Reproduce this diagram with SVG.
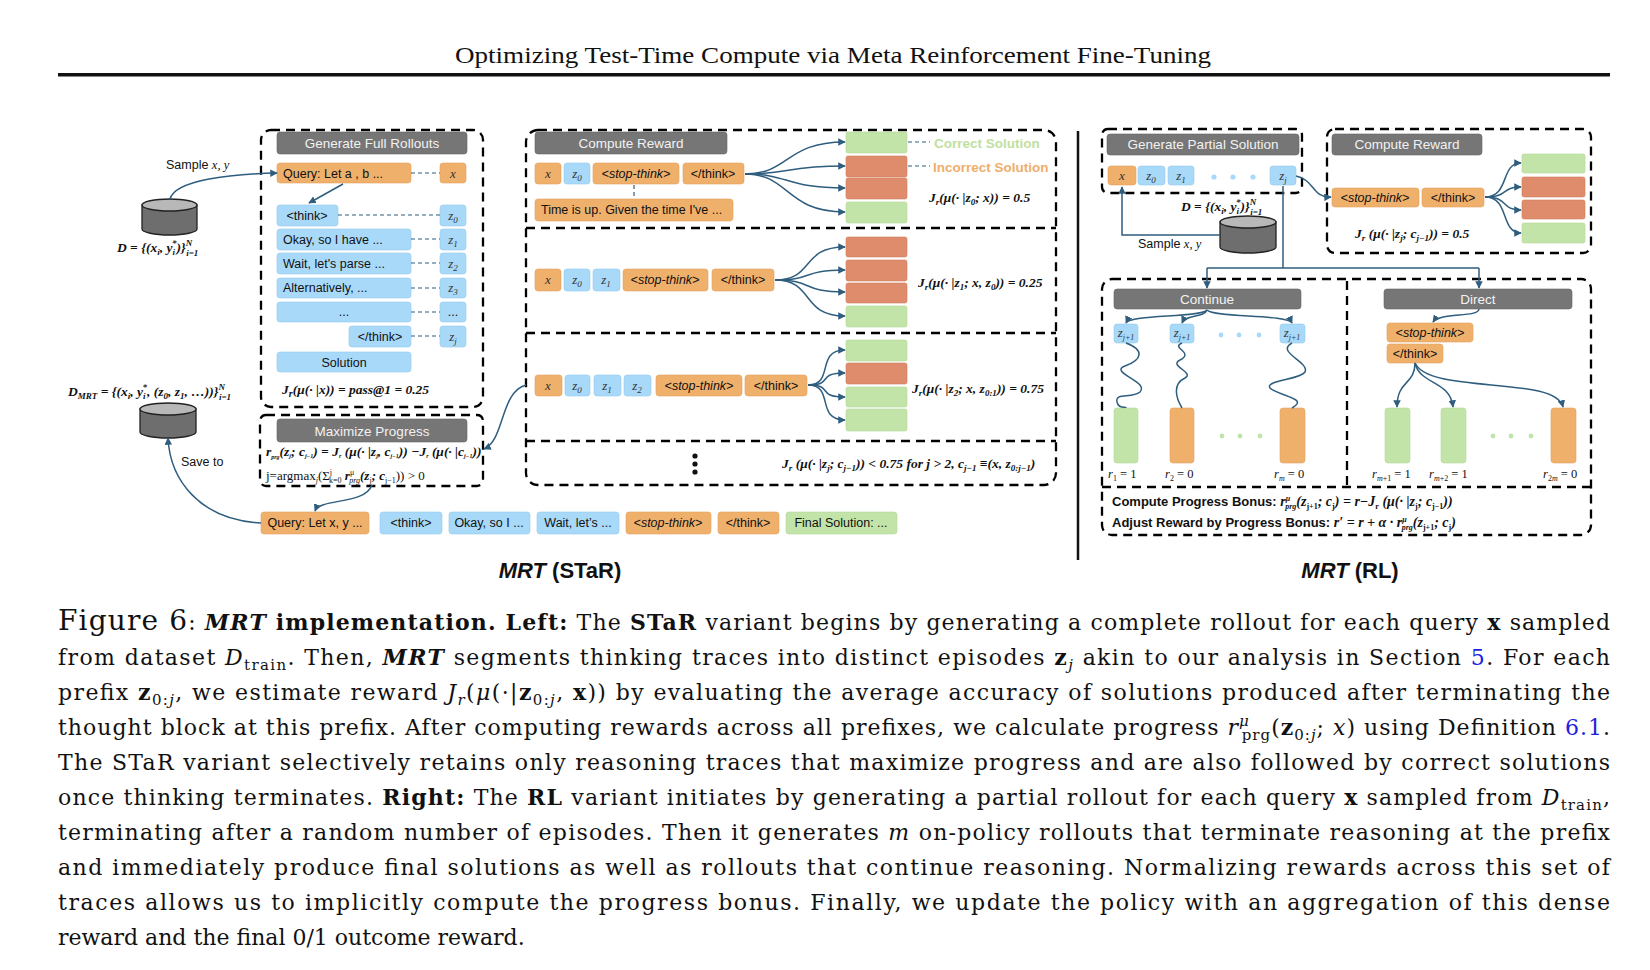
<svg xmlns="http://www.w3.org/2000/svg" width="1650" height="970" viewBox="0 0 1650 970">
<defs>
<marker id="ah" viewBox="0 0 10 10" refX="9" refY="5" markerWidth="5" markerHeight="5" orient="auto"><path d="M0,0 L10,5 L0,10 z" fill="#2F5D7E"/></marker>
<style>
.dash{fill:none;stroke:#000;stroke-width:2.3;stroke-dasharray:9 6}
.hdr{fill:#767676;stroke:#666;stroke-width:0.6}
.ht{font-family:"Liberation Sans",Arial,sans-serif;font-size:13.5px;fill:#F2F2F2;text-anchor:middle}
.o{fill:#EFB06C;stroke:#E3A35F;stroke-width:0.6}
.b{fill:#A9D9F9;stroke:#95C9EC;stroke-width:0.6}
.g{fill:#C3E4A8;stroke:#B2D699;stroke-width:0.6}
.r{fill:#DE8C6C;stroke:#D07E60;stroke-width:0.6}
.t{font-family:"Liberation Sans",Arial,sans-serif;font-size:12.5px;fill:#111}
.tc{font-family:"Liberation Sans",Arial,sans-serif;font-size:12.5px;fill:#111;text-anchor:middle}
.ti{font-family:"Liberation Serif",serif;font-style:italic;font-size:13px;fill:#333;text-anchor:middle}
.m{font-family:"Liberation Serif",serif;font-style:italic;font-weight:bold;font-size:13.5px;fill:#111}
.c{fill:none;stroke:#2F5D7E;stroke-width:1.5}
.ca{fill:none;stroke:#2F5D7E;stroke-width:1.5;marker-end:url(#ah)}
.dl{fill:none;stroke:#2F5D7E;stroke-width:1.2;stroke-dasharray:4 3}
.cap{font-family:"DejaVu Serif",serif;font-size:22px;fill:#111}
.cyl{fill:#6E6E6E;stroke:#222;stroke-width:1.3}
.cylt{fill:#B8B8B8;stroke:#222;stroke-width:1.3}
.dot{fill:#A9D9F9}
.gdot{fill:#C3E4A8}
</style>
</defs>

<text x="455" y="63" textLength="756" lengthAdjust="spacingAndGlyphs" font-family="Liberation Serif,serif" font-size="23" fill="#111">Optimizing Test-Time Compute via Meta Reinforcement Fine-Tuning</text>
<rect x="58" y="73" width="1552" height="3.5" fill="#111"/>

<g id="dataset-D">
<path class="cyl" d="M142,205 L142,229 A27.5,6 0 0 0 197,229 L197,205 z"/>
<ellipse class="cylt" cx="169.5" cy="205" rx="27.5" ry="6"/>
<text class="m" x="117" y="252" font-size="13.5">D = {(x<tspan dy="3" font-size="9">i</tspan><tspan dy="-3">, y</tspan><tspan dy="3" font-size="9">i</tspan><tspan dy="-9" dx="-3" font-size="9">*</tspan><tspan dy="6">)}</tspan><tspan dy="-6" font-size="9">N</tspan><tspan dy="10" dx="-6" font-size="9">i=1</tspan></text>
<text class="t" x="166" y="169" font-size="13">Sample <tspan font-family="Liberation Serif" font-style="italic">x, y</tspan></text>
</g>
<g id="dataset-DMRT">
<text class="m" x="68" y="396" font-size="13.5">D<tspan dy="3" font-size="9">MRT</tspan><tspan dy="-3"> = {(x</tspan><tspan dy="3" font-size="9">i</tspan><tspan dy="-3">, y</tspan><tspan dy="3" font-size="9">i</tspan><tspan dy="-9" dx="-3" font-size="9">*</tspan><tspan dy="6">, (z</tspan><tspan dy="3" font-size="9">0</tspan><tspan dy="-3">, z</tspan><tspan dy="3" font-size="9">1</tspan><tspan dy="-3">, …))}</tspan><tspan dy="-6" font-size="9">N</tspan><tspan dy="10" dx="-6" font-size="9">i=1</tspan></text>
<path class="cyl" d="M140,409 L140,432 A28,6 0 0 0 196,432 L196,409 z"/>
<ellipse class="cylt" cx="168" cy="409" rx="28" ry="6"/>
<text class="t" x="181" y="466" font-size="13">Save to</text>
</g>

<g id="gen-full">
<rect class="dash" x="261" y="130" width="222" height="277" rx="10"/>
<rect class="hdr" x="277" y="132" width="190" height="22" rx="3"/>
<text class="ht" x="372" y="148">Generate Full Rollouts</text>
<rect class="o" x="277" y="163" width="134" height="20" rx="3"/><text class="t" x="283" y="178">Query: Let a , b ...</text>
<rect class="o" x="440" y="163" width="26" height="20" rx="3"/><text class="ti" x="453" y="178">x</text>
<rect class="b" x="277" y="205" width="61" height="21" rx="3"/><text class="tc" x="307" y="220">&lt;think&gt;</text>
<rect class="b" x="440" y="205" width="26" height="21" rx="3"/><text class="ti" x="453" y="220">z<tspan dy="3" font-size="9">0</tspan></text>
<rect class="b" x="277" y="229" width="134" height="21" rx="3"/><text class="t" x="283" y="244">Okay, so I have ...</text>
<rect class="b" x="440" y="229" width="26" height="21" rx="3"/><text class="ti" x="453" y="244">z<tspan dy="3" font-size="9">1</tspan></text>
<rect class="b" x="277" y="253" width="134" height="21" rx="3"/><text class="t" x="283" y="268">Wait, let's parse ...</text>
<rect class="b" x="440" y="253" width="26" height="21" rx="3"/><text class="ti" x="453" y="268">z<tspan dy="3" font-size="9">2</tspan></text>
<rect class="b" x="277" y="278" width="134" height="20" rx="3"/><text class="t" x="283" y="292">Alternatively, ...</text>
<rect class="b" x="440" y="278" width="26" height="20" rx="3"/><text class="ti" x="453" y="292">z<tspan dy="3" font-size="9">3</tspan></text>
<rect class="b" x="277" y="302" width="134" height="20" rx="3"/><text class="tc" x="344" y="316">...</text>
<rect class="b" x="440" y="302" width="26" height="20" rx="3"/><text class="tc" x="453" y="316">...</text>
<rect class="b" x="349" y="326" width="62" height="21" rx="3"/><text class="tc" x="380" y="341">&lt;/think&gt;</text>
<rect class="b" x="440" y="326" width="26" height="21" rx="3"/><text class="ti" x="453" y="341">z<tspan dy="3" font-size="9">j</tspan></text>
<rect class="b" x="277" y="352" width="134" height="20" rx="3"/><text class="tc" x="344" y="367" font-size="14">Solution</text>
<text class="m" x="282" y="394" font-size="15">J<tspan dy="3" font-size="10">r</tspan><tspan dy="-3">(μ(· |x)) = pass@1 = 0.25</tspan></text>
</g>

<g id="max-progress">
<rect class="dash" x="260" y="415" width="223" height="71" rx="6"/>
<rect class="hdr" x="277" y="419" width="190" height="23" rx="3"/>
<text class="ht" x="372" y="436">Maximize Progress</text>
<text class="m" x="266" y="456" font-size="9" font-weight="normal">r<tspan dy="3" font-size="6">prg</tspan><tspan dy="-3">(z</tspan><tspan dy="2" font-size="6">j</tspan><tspan dy="-2">; c</tspan><tspan dy="2" font-size="6">j−1</tspan><tspan dy="-2">) = J</tspan><tspan dy="2" font-size="6">r</tspan><tspan dy="-2"> (μ(· |z</tspan><tspan dy="2" font-size="6">j</tspan><tspan dy="-2">, c</tspan><tspan dy="2" font-size="6">j−1</tspan><tspan dy="-2">)) −J</tspan><tspan dy="2" font-size="6">r</tspan><tspan dy="-2"> (μ(· |c</tspan><tspan dy="2" font-size="6">j−1</tspan><tspan dy="-2">))</tspan></text>
<text x="266" y="480" font-family="Liberation Serif,serif" font-size="13" fill="#111">j=argmax<tspan dy="3" font-size="8" font-style="italic">j</tspan><tspan dy="-3">(Σ</tspan><tspan dy="-5" font-size="8">j</tspan><tspan dy="8" dx="-3" font-size="8">k=0</tspan><tspan dy="-3" font-style="italic" font-weight="bold"> r</tspan><tspan dy="-5" font-size="8">μ</tspan><tspan dy="8" dx="-5" font-size="8" font-style="italic">prg</tspan><tspan dy="-3" font-style="italic" font-weight="bold">(z</tspan><tspan dy="3" font-size="8">j</tspan><tspan dy="-3" font-style="italic" font-weight="bold">; c</tspan><tspan dy="3" font-size="8">j−1</tspan><tspan dy="-3">)) &gt; 0</tspan></text>
</g>

<g id="star-output">
<rect class="o" x="261" y="512" width="108" height="22" rx="3"/><text class="tc" x="315" y="527" font-size="12">Query: Let x, y ...</text>
<rect class="b" x="380" y="512" width="62" height="22" rx="3"/><text class="tc" x="411" y="527" font-size="12">&lt;think&gt;</text>
<rect class="b" x="449" y="512" width="81" height="22" rx="3"/><text class="tc" x="489" y="527" font-size="12">Okay, so I ...</text>
<rect class="b" x="537" y="512" width="82" height="22" rx="3"/><text class="tc" x="578" y="527" font-size="12">Wait, let’s ...</text>
<rect class="o" x="626" y="512" width="85" height="22" rx="3"/><text class="tc" x="668" y="527" font-size="12" font-style="italic">&lt;stop-think&gt;</text>
<rect class="o" x="718" y="512" width="61" height="22" rx="3"/><text class="tc" x="748" y="527" font-size="12">&lt;/think&gt;</text>
<rect class="g" x="786" y="512" width="111" height="22" rx="3"/><text class="tc" x="841" y="527" font-size="12">Final Solution: ...</text>
</g>
<text x="560" y="578" text-anchor="middle" font-family="Liberation Sans,Arial,sans-serif" font-size="22" font-weight="bold" fill="#111"><tspan font-style="italic">MRT</tspan> (STaR)</text>

<g id="compute-reward-star">
<rect class="dash" x="526" y="130" width="530" height="355" rx="12"/>
<line class="dash" x1="526" y1="228" x2="1056" y2="228"/>
<line class="dash" x1="526" y1="333" x2="1056" y2="333"/>
<line class="dash" x1="526" y1="441" x2="1056" y2="441"/>
<rect class="hdr" x="535" y="132" width="192" height="22" rx="3"/>
<text class="ht" x="631" y="148">Compute Reward</text>
<rect class="o" x="535" y="163" width="26" height="21" rx="3"/><text class="ti" x="548" y="178">x</text>
<rect class="b" x="564" y="163" width="26" height="21" rx="3"/><text class="ti" x="577" y="178">z<tspan dy="3" font-size="9">0</tspan></text>
<rect class="o" x="593" y="163" width="86" height="21" rx="3"/><text class="tc" x="636" y="178" font-style="italic">&lt;stop-think&gt;</text>
<rect class="o" x="683" y="163" width="61" height="21" rx="3"/><text class="tc" x="713" y="178">&lt;/think&gt;</text>
<line class="dl" x1="634" y1="185" x2="634" y2="199"/>
<rect class="o" x="535" y="199" width="198" height="22" rx="3"/><text class="t" x="541" y="214">Time is up. Given the time I've ...</text>
<rect class="g" x="846" y="132" width="61" height="21" rx="2"/>
<rect class="r" x="846" y="156" width="61" height="21" rx="2"/>
<rect class="r" x="846" y="178" width="61" height="21" rx="2"/>
<rect class="g" x="846" y="202" width="61" height="21" rx="2"/>
<line class="dl" x1="908" y1="142" x2="930" y2="142"/>
<line class="dl" x1="908" y1="166" x2="930" y2="166"/>
<text x="934" y="148" font-family="Liberation Sans,Arial,sans-serif" font-size="13.5" font-weight="bold" fill="#BFDF9F">Correct Solution</text>
<text x="933" y="172" font-family="Liberation Sans,Arial,sans-serif" font-size="13.5" font-weight="bold" fill="#EFAE6A">Incorrect Solution</text>
<text class="m" x="929" y="202">J<tspan dy="3" font-size="9">r</tspan><tspan dy="-3">(μ(· |z</tspan><tspan dy="3" font-size="9">0</tspan><tspan dy="-3">; x)) = 0.5</tspan></text>
<rect class="o" x="535" y="269" width="26" height="22" rx="3"/><text class="ti" x="548" y="284">x</text>
<rect class="b" x="564" y="269" width="26" height="22" rx="3"/><text class="ti" x="577" y="284">z<tspan dy="3" font-size="9">0</tspan></text>
<rect class="b" x="593" y="269" width="27" height="22" rx="3"/><text class="ti" x="606" y="284">z<tspan dy="3" font-size="9">1</tspan></text>
<rect class="o" x="623" y="269" width="85" height="22" rx="3"/><text class="tc" x="665" y="284" font-style="italic">&lt;stop-think&gt;</text>
<rect class="o" x="712" y="269" width="62" height="22" rx="3"/><text class="tc" x="743" y="284">&lt;/think&gt;</text>
<rect class="r" x="846" y="237" width="61" height="20" rx="2"/>
<rect class="r" x="846" y="260" width="61" height="21" rx="2"/>
<rect class="r" x="846" y="283" width="61" height="20" rx="2"/>
<rect class="g" x="846" y="306" width="61" height="21" rx="2"/>
<text class="m" x="918" y="287">J<tspan dy="3" font-size="9">r</tspan><tspan dy="-3">(μ(· |z</tspan><tspan dy="3" font-size="9">1</tspan><tspan dy="-3">; x, z</tspan><tspan dy="3" font-size="9">0</tspan><tspan dy="-3">)) = 0.25</tspan></text>
<rect class="o" x="535" y="375" width="27" height="21" rx="3"/><text class="ti" x="548" y="390">x</text>
<rect class="b" x="565" y="375" width="25" height="21" rx="3"/><text class="ti" x="577" y="390">z<tspan dy="3" font-size="9">0</tspan></text>
<rect class="b" x="594" y="375" width="27" height="21" rx="3"/><text class="ti" x="607" y="390">z<tspan dy="3" font-size="9">1</tspan></text>
<rect class="b" x="624" y="375" width="27" height="21" rx="3"/><text class="ti" x="637" y="390">z<tspan dy="3" font-size="9">2</tspan></text>
<rect class="o" x="656" y="375" width="86" height="21" rx="3"/><text class="tc" x="699" y="390" font-style="italic">&lt;stop-think&gt;</text>
<rect class="o" x="745" y="375" width="62" height="21" rx="3"/><text class="tc" x="776" y="390">&lt;/think&gt;</text>
<rect class="g" x="846" y="340" width="61" height="21" rx="2"/>
<rect class="r" x="846" y="363" width="61" height="21" rx="2"/>
<rect class="g" x="846" y="387" width="61" height="20" rx="2"/>
<rect class="g" x="846" y="409" width="61" height="22" rx="2"/>
<text class="m" x="912" y="393">J<tspan dy="3" font-size="9">r</tspan><tspan dy="-3">(μ(· |z</tspan><tspan dy="3" font-size="9">2</tspan><tspan dy="-3">; x, z</tspan><tspan dy="3" font-size="9">0:1</tspan><tspan dy="-3">)) = 0.75</tspan></text>
<circle cx="695" cy="456" r="2.6" fill="#111"/><circle cx="695" cy="464" r="2.6" fill="#111"/><circle cx="695" cy="472" r="2.6" fill="#111"/>
<text class="m" x="782" y="468">J<tspan dy="3" font-size="9">r</tspan><tspan dy="-3"> (μ(· |z</tspan><tspan dy="3" font-size="9">j</tspan><tspan dy="-3">; c</tspan><tspan dy="3" font-size="9">j−1</tspan><tspan dy="-3">)) &lt; 0.75 for j &gt; 2, c</tspan><tspan dy="3" font-size="9">j−1</tspan><tspan dy="-3"> ≡(x, z</tspan><tspan dy="3" font-size="9">0:j−1</tspan><tspan dy="-3">)</tspan></text>
</g>

<line x1="1078" y1="131" x2="1078" y2="560" stroke="#111" stroke-width="2.5"/>

<g id="gen-partial">
<rect class="dash" x="1102" y="129" width="200" height="64" rx="6"/>
<rect class="hdr" x="1107" y="134" width="192" height="21" rx="3"/>
<text class="ht" x="1203" y="149">Generate Partial Solution</text>
<rect class="o" x="1108" y="166" width="28" height="19" rx="3"/><text class="ti" x="1122" y="180">x</text>
<rect class="b" x="1138" y="166" width="27" height="19" rx="3"/><text class="ti" x="1151" y="180">z<tspan dy="3" font-size="9">0</tspan></text>
<rect class="b" x="1168" y="166" width="26" height="19" rx="3"/><text class="ti" x="1181" y="180">z<tspan dy="3" font-size="9">1</tspan></text>
<circle class="dot" cx="1214" cy="177" r="2.6"/><circle class="dot" cx="1233" cy="177" r="2.6"/><circle class="dot" cx="1253" cy="177" r="2.6"/>
<rect class="b" x="1270" y="166" width="26" height="19" rx="3"/><text class="ti" x="1283" y="180">z<tspan dy="3" font-size="9">j</tspan></text>
</g>
<g id="dataset-D-rl">
<text class="m" x="1181" y="211" font-size="13.5">D = {(x<tspan dy="3" font-size="9">i</tspan><tspan dy="-3">, y</tspan><tspan dy="3" font-size="9">i</tspan><tspan dy="-9" dx="-3" font-size="9">*</tspan><tspan dy="6">)}</tspan><tspan dy="-6" font-size="9">N</tspan><tspan dy="10" dx="-6" font-size="9">i=1</tspan></text>
<path class="cyl" d="M1220,222 L1220,247 A28,6 0 0 0 1276,247 L1276,222 z"/>
<ellipse class="cylt" cx="1248" cy="222" rx="28" ry="6"/>
<text class="t" x="1138" y="248" font-size="13">Sample <tspan font-family="Liberation Serif" font-style="italic">x, y</tspan></text>
</g>

<g id="compute-reward-rl">
<rect class="dash" x="1327" y="129" width="264" height="124" rx="8"/>
<rect class="hdr" x="1332" y="134" width="150" height="21" rx="3"/>
<text class="ht" x="1407" y="149">Compute Reward</text>
<rect class="o" x="1332" y="188" width="87" height="19" rx="3"/><text class="tc" x="1375" y="202" font-style="italic">&lt;stop-think&gt;</text>
<rect class="o" x="1422" y="188" width="62" height="19" rx="3"/><text class="tc" x="1453" y="202">&lt;/think&gt;</text>
<rect class="g" x="1522" y="154" width="63" height="19" rx="2"/>
<rect class="r" x="1522" y="177" width="63" height="20" rx="2"/>
<rect class="r" x="1522" y="200" width="63" height="19" rx="2"/>
<rect class="g" x="1522" y="223" width="63" height="20" rx="2"/>
<text class="m" x="1355" y="238">J<tspan dy="3" font-size="9">r</tspan><tspan dy="-3"> (μ(· |z</tspan><tspan dy="3" font-size="9">j</tspan><tspan dy="-3">; c</tspan><tspan dy="3" font-size="9">j−1</tspan><tspan dy="-3">)) = 0.5</tspan></text>
</g>

<g id="continue-direct">
<rect class="dash" x="1102" y="279" width="489" height="256" rx="10"/>
<line class="dash" x1="1347" y1="281" x2="1347" y2="487"/>
<line class="dash" x1="1102" y1="487" x2="1591" y2="487"/>
<rect class="hdr" x="1114" y="289" width="187" height="20" rx="3"/>
<text class="ht" x="1207" y="304">Continue</text>
<rect class="hdr" x="1384" y="289" width="188" height="20" rx="3"/>
<text class="ht" x="1478" y="304">Direct</text>
<rect class="b" x="1114" y="324" width="24" height="19" rx="3"/><text class="ti" x="1126" y="337" font-size="12">z<tspan dy="3" font-size="8">j+1</tspan></text>
<rect class="b" x="1170" y="324" width="24" height="19" rx="3"/><text class="ti" x="1182" y="337" font-size="12">z<tspan dy="3" font-size="8">j+1</tspan></text>
<rect class="b" x="1280" y="324" width="25" height="19" rx="3"/><text class="ti" x="1292" y="337" font-size="12">z<tspan dy="3" font-size="8">j+1</tspan></text>
<circle class="dot" cx="1221" cy="335" r="2.4"/><circle class="dot" cx="1239" cy="335" r="2.4"/><circle class="dot" cx="1259" cy="335" r="2.4"/>
<rect class="g" x="1114" y="408" width="24" height="55" rx="3"/>
<rect class="o" x="1170" y="408" width="24" height="55" rx="3"/>
<rect class="o" x="1280" y="408" width="25" height="55" rx="3"/>
<circle class="gdot" cx="1222" cy="436" r="2.4"/><circle class="gdot" cx="1240" cy="436" r="2.4"/><circle class="gdot" cx="1260" cy="436" r="2.4"/>
<text x="1108" y="478" font-family="Liberation Serif,serif" font-size="12.5" fill="#111"><tspan font-style="italic">r</tspan><tspan dy="3" font-size="8">1</tspan><tspan dy="-3"> = 1</tspan></text>
<text x="1165" y="478" font-family="Liberation Serif,serif" font-size="12.5" fill="#111"><tspan font-style="italic">r</tspan><tspan dy="3" font-size="8">2</tspan><tspan dy="-3"> = 0</tspan></text>
<text x="1274" y="478" font-family="Liberation Serif,serif" font-size="12.5" fill="#111"><tspan font-style="italic">r</tspan><tspan dy="3" font-size="8" font-style="italic">m</tspan><tspan dy="-3"> = 0</tspan></text>
<rect class="o" x="1387" y="323" width="86" height="19" rx="3"/><text class="tc" x="1430" y="337" font-size="12" font-style="italic">&lt;stop-think&gt;</text>
<rect class="o" x="1387" y="344" width="56" height="19" rx="3"/><text class="tc" x="1415" y="358" font-size="12">&lt;/think&gt;</text>
<rect class="g" x="1385" y="408" width="25" height="55" rx="3"/>
<rect class="g" x="1441" y="408" width="25" height="55" rx="3"/>
<rect class="o" x="1551" y="408" width="25" height="55" rx="3"/>
<circle class="gdot" cx="1493" cy="436" r="2.4"/><circle class="gdot" cx="1511" cy="436" r="2.4"/><circle class="gdot" cx="1531" cy="436" r="2.4"/>
<text x="1372" y="478" font-family="Liberation Serif,serif" font-size="12.5" fill="#111"><tspan font-style="italic">r</tspan><tspan dy="3" font-size="8"><tspan font-style="italic">m</tspan>+1</tspan><tspan dy="-3"> = 1</tspan></text>
<text x="1429" y="478" font-family="Liberation Serif,serif" font-size="12.5" fill="#111"><tspan font-style="italic">r</tspan><tspan dy="3" font-size="8"><tspan font-style="italic">m</tspan>+2</tspan><tspan dy="-3"> = 1</tspan></text>
<text x="1543" y="478" font-family="Liberation Serif,serif" font-size="12.5" fill="#111"><tspan font-style="italic">r</tspan><tspan dy="3" font-size="8">2<tspan font-style="italic">m</tspan></tspan><tspan dy="-3"> = 0</tspan></text>
<text x="1112" y="506" font-family="Liberation Sans,Arial,sans-serif" font-size="13" font-weight="bold" fill="#111">Compute Progress Bonus: <tspan font-family="Liberation Serif" font-style="italic" font-size="14">r</tspan><tspan font-family="Liberation Serif" font-style="italic" font-size="8" dy="-5">μ</tspan><tspan font-family="Liberation Serif" font-style="italic" font-size="8" dy="8" dx="-5">prg</tspan><tspan font-family="Liberation Serif" font-style="italic" font-size="14" dy="-3">(z</tspan><tspan font-size="8" dy="3" font-family="Liberation Serif">j+1</tspan><tspan font-family="Liberation Serif" font-style="italic" font-size="14" dy="-3">; c</tspan><tspan font-size="8" dy="3" font-family="Liberation Serif">j</tspan><tspan font-family="Liberation Serif" font-style="italic" font-size="14" dy="-3">) = r−J</tspan><tspan font-size="8" dy="3" font-family="Liberation Serif">r</tspan><tspan font-family="Liberation Serif" font-style="italic" font-size="14" dy="-3"> (μ(· |z</tspan><tspan font-size="8" dy="3" font-family="Liberation Serif">j</tspan><tspan font-family="Liberation Serif" font-style="italic" font-size="14" dy="-3">; c</tspan><tspan font-size="8" dy="3" font-family="Liberation Serif">j−1</tspan><tspan font-family="Liberation Serif" font-style="italic" font-size="14" dy="-3">))</tspan></text>
<text x="1112" y="527" font-family="Liberation Sans,Arial,sans-serif" font-size="13" font-weight="bold" fill="#111">Adjust Reward by Progress Bonus: <tspan font-family="Liberation Serif" font-style="italic" font-size="14">r′ = r + α · r</tspan><tspan font-family="Liberation Serif" font-style="italic" font-size="8" dy="-5">μ</tspan><tspan font-family="Liberation Serif" font-style="italic" font-size="8" dy="8" dx="-5">prg</tspan><tspan font-family="Liberation Serif" font-style="italic" font-size="14" dy="-3">(z</tspan><tspan font-size="8" dy="3" font-family="Liberation Serif">j+1</tspan><tspan font-family="Liberation Serif" font-style="italic" font-size="14" dy="-3">; c</tspan><tspan font-size="8" dy="3" font-family="Liberation Serif">j</tspan><tspan font-family="Liberation Serif" font-style="italic" font-size="14" dy="-3">)</tspan></text>
</g>
<text x="1350" y="578" text-anchor="middle" font-family="Liberation Sans,Arial,sans-serif" font-size="22" font-weight="bold" fill="#111"><tspan font-style="italic">MRT</tspan> (RL)</text>

<g id="connectors">
<path class="ca" d="M170,199 C175,180 230,174 277,173"/>
<line class="dl" x1="411" y1="173" x2="440" y2="173"/>
<line class="dl" x1="338" y1="215" x2="440" y2="215"/>
<line class="dl" x1="411" y1="239" x2="440" y2="239"/>
<line class="dl" x1="411" y1="263" x2="440" y2="263"/>
<line class="dl" x1="411" y1="288" x2="440" y2="288"/>
<line class="dl" x1="411" y1="312" x2="440" y2="312"/>
<line class="dl" x1="411" y1="336" x2="440" y2="336"/>
<path class="ca" d="M343,184 L309,203"/>
<path class="ca" d="M526,385 C500,392 505,440 484,449"/>
<path class="ca" d="M372,485 C365,505 320,498 315,511"/>
<path class="ca" d="M261,523 C200,520 170,480 168,438"/>
<path class="ca" d="M745,174 C790,174 785,142 845,142"/>
<path class="ca" d="M745,174 C790,174 785,166 845,166"/>
<path class="ca" d="M745,174 C790,174 785,188 845,188"/>
<path class="ca" d="M745,174 C790,174 785,212 845,212"/>
<path class="ca" d="M775,280 C815,280 800,247 845,247"/>
<path class="ca" d="M775,280 C815,280 800,270 845,270"/>
<path class="ca" d="M775,280 C815,280 800,292 845,292"/>
<path class="ca" d="M775,280 C815,280 800,316 845,316"/>
<path class="ca" d="M808,385 C835,385 815,350 845,350"/>
<path class="ca" d="M808,385 C835,385 815,373 845,373"/>
<path class="ca" d="M808,385 C835,385 815,397 845,397"/>
<path class="ca" d="M808,385 C835,385 815,420 845,420"/>
<path class="ca" d="M1220,235 L1122,235 L1122,187"/>
<path class="ca" d="M1296,176 C1315,180 1312,198 1331,197"/>
<path class="c" d="M1283,186 L1283,268"/>
<path class="c" d="M1207,268 L1479,268"/>
<path class="ca" d="M1207,268 L1207,288"/>
<path class="ca" d="M1479,268 L1479,288"/>
<path class="ca" d="M1485,197 C1510,197 1500,163 1521,163"/>
<path class="ca" d="M1485,197 C1510,197 1500,187 1521,187"/>
<path class="ca" d="M1485,197 C1510,197 1500,210 1521,210"/>
<path class="ca" d="M1485,197 C1510,197 1500,233 1521,233"/>
<path class="ca" d="M1207,310 C1200,318 1130,314 1126,323"/>
<path class="ca" d="M1207,310 C1204,318 1186,314 1182,323"/>
<path class="ca" d="M1207,310 C1214,318 1288,314 1292,323"/>
<path class="c" d="M1126,343 C1145,350 1142,360 1125,366 C1108,372 1150,382 1140,392 C1132,399 1115,392 1117,402 C1119,410 1126,406 1126,408"/>
<path class="c" d="M1182,343 C1170,348 1195,352 1180,360 C1168,366 1195,372 1185,378 C1172,384 1176,398 1182,408"/>
<path class="c" d="M1292,343 C1275,352 1310,362 1305,372 C1300,380 1265,380 1270,388 C1278,396 1310,398 1292,408"/>
<path class="ca" d="M1479,309 C1478,318 1440,312 1433,322"/>
<path class="ca" d="M1415,363 C1415,385 1397,380 1397,407"/>
<path class="ca" d="M1415,363 C1420,385 1450,380 1453,407"/>
<path class="ca" d="M1415,363 C1430,395 1555,375 1563,407"/>
</g>

<g id="caption" class="cap">
<text x="58" y="630" textLength="1552" lengthAdjust="spacing"><tspan font-size="28">Figure 6</tspan>: <tspan font-weight="bold"><tspan font-style="italic">MRT</tspan> implementation. Left:</tspan> The <tspan font-weight="bold">STaR</tspan> variant begins by generating a complete rollout for each query <tspan font-weight="bold">x</tspan> sampled</text>
<text x="58" y="665" textLength="1552" lengthAdjust="spacing">from dataset <tspan font-style="italic">D</tspan><tspan font-size="15" dy="5">train</tspan><tspan dy="-5">. Then, </tspan><tspan font-weight="bold" font-style="italic">MRT</tspan> segments thinking traces into distinct episodes <tspan font-weight="bold">z</tspan><tspan font-size="15" dy="5" font-style="italic">j</tspan><tspan dy="-5"> akin to our analysis in Section </tspan><tspan fill="#1F1FE0">5</tspan>. For each</text>
<text x="58" y="700" textLength="1552" lengthAdjust="spacing">prefix <tspan font-weight="bold">z</tspan><tspan font-size="15" dy="5">0:<tspan font-style="italic">j</tspan></tspan><tspan dy="-5">, we estimate reward </tspan><tspan font-style="italic">J</tspan><tspan font-size="15" dy="5" font-style="italic">r</tspan><tspan dy="-5">(</tspan><tspan font-style="italic">μ</tspan>(·|<tspan font-weight="bold">z</tspan><tspan font-size="15" dy="5">0:<tspan font-style="italic">j</tspan></tspan><tspan dy="-5">, </tspan><tspan font-weight="bold">x</tspan>)) by evaluating the average accuracy of solutions produced after terminating the</text>
<text x="58" y="735" textLength="1552" lengthAdjust="spacing">thought block at this prefix. After computing rewards across all prefixes, we calculate progress <tspan font-style="italic">r</tspan><tspan font-size="15" dy="-9" font-style="italic">μ</tspan><tspan font-size="15" dy="14" dx="-8">prg</tspan><tspan dy="-5">(</tspan><tspan font-weight="bold">z</tspan><tspan font-size="15" dy="5">0:<tspan font-style="italic">j</tspan></tspan><tspan dy="-5">; </tspan><tspan font-style="italic">x</tspan>) using Definition <tspan fill="#1F1FE0">6.1</tspan>.</text>
<text x="58" y="770" textLength="1552" lengthAdjust="spacing">The STaR variant selectively retains only reasoning traces that maximize progress and are also followed by correct solutions</text>
<text x="58" y="805" textLength="1552" lengthAdjust="spacing">once thinking terminates. <tspan font-weight="bold">Right:</tspan> The <tspan font-weight="bold">RL</tspan> variant initiates by generating a partial rollout for each query <tspan font-weight="bold">x</tspan> sampled from <tspan font-style="italic">D</tspan><tspan font-size="15" dy="5">train</tspan><tspan dy="-5">,</tspan></text>
<text x="58" y="840" textLength="1552" lengthAdjust="spacing">terminating after a random number of episodes. Then it generates <tspan font-style="italic">m</tspan> on-policy rollouts that terminate reasoning at the prefix</text>
<text x="58" y="875" textLength="1552" lengthAdjust="spacing">and immediately produce final solutions as well as rollouts that continue reasoning. Normalizing rewards across this set of</text>
<text x="58" y="910" textLength="1552" lengthAdjust="spacing">traces allows us to implicitly compute the progress bonus. Finally, we update the policy with an aggregation of this dense</text>
<text x="58" y="945">reward and the final 0/1 outcome reward.</text>
</g>
</svg>
